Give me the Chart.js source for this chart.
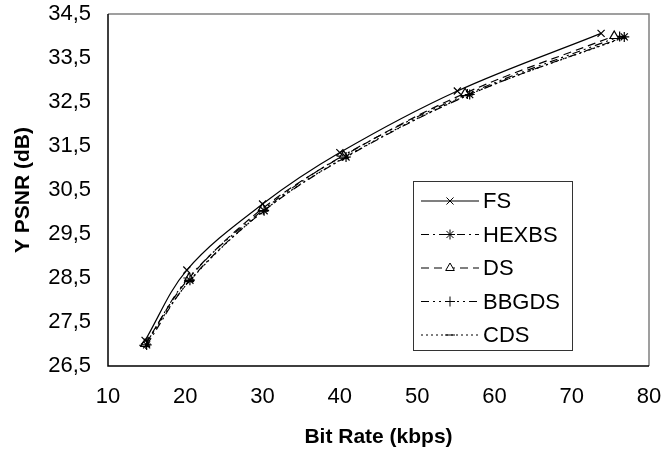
<!DOCTYPE html>
<html><head><meta charset="utf-8">
<script src="https://cdn.jsdelivr.net/npm/chart.js@4"></script>
<style>html,body{margin:0;padding:0;background:#fff}#wrap{width:664px;height:451px}</style>
</head><body><div id="wrap"><canvas id="c" width="664" height="451"></canvas></div>
<script>
const seriesNames = ['FS','HEXBS','DS','BBGDS','CDS'];
const fsX = [14.8,20.2,30.0,40.0,55.2,73.8];
const fsY = [27.08,28.68,30.18,31.35,32.75,34.06];
const hexX = [15.0,20.6,30.2,40.8,56.8,76.8];
const hexY = [26.98,28.45,30.03,31.25,32.67,33.98];
const dsX = [14.8,20.5,30.0,40.5,56.2,75.5];
const dsY = [27.0,28.5,30.08,31.28,32.70,34.0];
const bbX = [14.9,20.4,30.1,40.3,56.5,76.2];
const bbY = [27.0,28.5,30.05,31.27,32.68,33.99];
const cdsX = [14.7,20.5,30.1,40.6,56.6,76.5];
const cdsY = [26.97,28.42,30.02,31.24,32.66,33.95];
const xTicks = [10,20,30,40,50,60,70,80];
const yTicks = [26.5,27.5,28.5,29.5,30.5,31.5,32.5,33.5,34.5];

const pts = (xs, ys) => xs.map((x,i)=>({x:x,y:ys[i]}));
const styles = [
  {dash:[], ps:'crossRot', r:5},
  {dash:[8,4,2,4], ps:'star', r:5},
  {dash:[8,5], ps:'triangle', r:5},
  {dash:[8,4,2,4,2,4], ps:'cross', r:5},
  {dash:[2,3], ps:'line', r:5}
];
const dataArr = [pts(fsX,fsY),pts(hexX,hexY),pts(dsX,dsY),pts(bbX,bbY),pts(cdsX,cdsY)];
const datasets = seriesNames.map((n,i)=>({
  label:n, data:dataArr[i], borderColor:'#000', backgroundColor:'#fff',
  borderWidth:1.2, borderDash:styles[i].dash, pointStyle:styles[i].ps,
  pointRadius:styles[i].r, pointBorderColor:'#000', pointBackgroundColor:'#fff',
  pointBorderWidth:1.2, tension:0.35, fill:false
}));

const FONT = 'Liberation Sans, Arial, sans-serif';
const frame = {
  id:'frame',
  afterDraw(chart){
    const {ctx, chartArea:a} = chart;
    ctx.save();
    ctx.strokeStyle='#808080'; ctx.lineWidth=1.5;
    ctx.beginPath(); ctx.moveTo(a.left,a.top); ctx.lineTo(a.right,a.top); ctx.lineTo(a.right,a.bottom); ctx.stroke();
    ctx.strokeStyle='#000'; ctx.lineWidth=1.5;
    ctx.beginPath(); ctx.moveTo(a.left,a.top); ctx.lineTo(a.left,a.bottom); ctx.lineTo(a.right,a.bottom); ctx.stroke();
    // legend
    const lx=413, ly=181, lw=159, lh=169;
    ctx.fillStyle='#fff'; ctx.fillRect(lx,ly,lw,lh);
    ctx.strokeStyle='#333'; ctx.lineWidth=1; ctx.strokeRect(lx+0.5,ly+0.5,lw,lh);
    ctx.textBaseline='middle';
    seriesNames.forEach((n,i)=>{
      const y = ly+20+i*33.5;
      ctx.save();
      ctx.strokeStyle='#000'; ctx.lineWidth=1.2; ctx.setLineDash(styles[i].dash);
      ctx.beginPath(); ctx.moveTo(421,y); ctx.lineTo(479,y); ctx.stroke();
      ctx.restore();
      ctx.fillStyle='#fff'; ctx.strokeStyle='#000';
      Chart.helpers.drawPoint(ctx,{pointStyle:styles[i].ps,radius:5,borderWidth:1.2},450,y);
      ctx.fillStyle='#000'; ctx.font='22px '+FONT;
      ctx.fillText(n,483,y+1);
    });
    ctx.restore();
  }
};

new Chart(document.getElementById('c'),{
  type:'line',
  data:{datasets},
  options:{
    responsive:false, animation:false, devicePixelRatio:1,
    layout:{padding:{top:14,right:15,left:0,bottom:0}},
    plugins:{legend:{display:false},tooltip:{enabled:false}},
    scales:{
      x:{type:'linear',min:10,max:80,
        afterBuildTicks:s=>{s.ticks=xTicks.map(v=>({value:v}));},
        grid:{display:false,drawTicks:true,tickLength:7,tickColor:'#000'},
        border:{display:false},
        ticks:{color:'#000',font:{family:FONT,size:22},padding:11,maxRotation:0},
        title:{display:true,text:'Bit Rate (kbps)',color:'#000',font:{family:FONT,size:21,weight:'bold'},padding:{top:6,bottom:1}},
        afterFit:s=>{s.height=85;s.paddingLeft=0;s.paddingRight=0;}
      },
      y:{type:'linear',min:26.5,max:34.5,
        afterBuildTicks:s=>{s.ticks=yTicks.map(v=>({value:v}));},
        grid:{display:false,drawTicks:true,tickLength:7,tickColor:'#000'},
        border:{display:false},
        ticks:{color:'#000',font:{family:FONT,size:22},padding:10,callback:v=>v.toFixed(1).replace('.',',')},
        title:{display:true,text:'Y PSNR (dB)',color:'#000',font:{family:FONT,size:21,weight:'bold'},padding:{top:11,bottom:6}},
        afterFit:s=>{s.width=108;s.paddingTop=0;s.paddingBottom=0;}
      }
    }
  },
  plugins:[frame]
});
</script></body></html>
